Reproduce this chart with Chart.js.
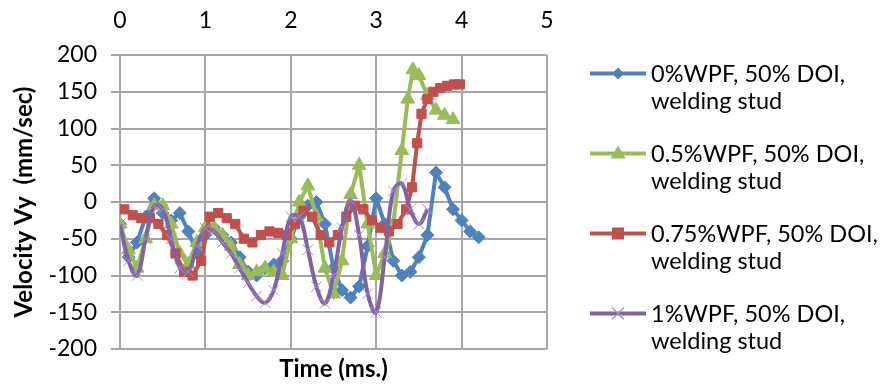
<!DOCTYPE html>
<html>
<head>
<meta charset="utf-8">
<script src="https://cdn.jsdelivr.net/npm/chart.js@4/dist/chart.umd.min.js"></script>
<style>
html,body{margin:0;padding:0;background:#fff;}
#wrap{position:relative;width:884px;height:388px;overflow:hidden;}
#c{position:absolute;left:0;top:0;}
.ltxt{position:absolute;left:651px;font-family:Lato, sans-serif;font-size:23.5px;line-height:27px;color:#000;white-space:nowrap;}
.lsym{position:absolute;left:586px;width:64px;height:27px;}
</style>
</head>
<body>
<div id="wrap">
<canvas id="c" width="884" height="388"></canvas>
<div id="legend"></div>
</div>
<script>
// ---- Data (time in ms, velocity in mm/sec) ----
const seriesNames = ['0%WPF, 50% DOI,', '0.5%WPF, 50% DOI,', '0.75%WPF, 50% DOI,', '1%WPF, 50% DOI,'];
const seriesSub = 'welding stud';
const xTicks = [0, 1, 2, 3, 4, 5];
const yTicks = [-200, -150, -100, -50, 0, 50, 100, 150, 200];

const tBlue = [0,0.1,0.2,0.3,0.4,0.5,0.6,0.7,0.8,0.9,1.0,1.1,1.2,1.3,1.4,1.5,1.6,1.7,1.8,1.9,2.0,2.1,2.2,2.3,2.4,2.5,2.6,2.7,2.8,2.9,3.0,3.1,3.2,3.3,3.4,3.5,3.6,3.7,3.8,3.9,4.0,4.1,4.2];
const vBlue = [-30,-75,-55,-20,5,-15,-25,-15,-40,-70,-45,-35,-45,-55,-75,-95,-100,-90,-85,-80,-50,-20,-5,0,-30,-90,-120,-130,-115,-60,5,-30,-80,-100,-95,-75,-45,40,20,-10,-25,-40,-48];

const tGreen = [0,0.1,0.2,0.3,0.4,0.5,0.6,0.7,0.8,0.9,1.0,1.1,1.2,1.3,1.4,1.5,1.6,1.7,1.8,1.9,2.0,2.1,2.2,2.3,2.4,2.5,2.6,2.7,2.8,2.9,3.0,3.1,3.2,3.3,3.37,3.43,3.5,3.6,3.7,3.8,3.9];
const vGreen = [-30,-65,-90,-50,-5,-5,-30,-70,-85,-55,-35,-35,-45,-60,-85,-100,-95,-90,-95,-100,-50,0,22,-20,-90,-125,-80,10,50,-30,-100,-70,-30,70,140,180,172,145,125,118,112];

const tRed = [0.05,0.15,0.25,0.35,0.45,0.55,0.65,0.75,0.85,0.95,1.05,1.15,1.25,1.35,1.45,1.55,1.65,1.75,1.85,1.95,2.05,2.15,2.25,2.35,2.45,2.55,2.65,2.75,2.85,2.95,3.05,3.15,3.25,3.35,3.42,3.48,3.53,3.6,3.67,3.75,3.83,3.91,3.98];
const vRed = [-10,-18,-22,-22,-30,-45,-70,-95,-100,-80,-20,-15,-22,-30,-50,-55,-45,-40,-42,-45,-30,-12,-20,-45,-55,-45,-20,-5,-10,-25,-35,-40,-30,-10,20,80,120,140,150,155,158,160,160];

const tPurple = [0,0.1,0.2,0.3,0.4,0.5,0.6,0.7,0.8,0.9,1.0,1.1,1.2,1.3,1.4,1.5,1.6,1.7,1.8,1.9,2.0,2.1,2.2,2.3,2.4,2.5,2.6,2.7,2.8,2.9,3.0,3.1,3.2,3.3,3.4,3.5,3.6];
const vPurple = [-30,-80,-100,-50,-5,-10,-50,-90,-95,-60,-36,-40,-55,-70,-90,-110,-128,-137,-120,-70,-20,-20,-65,-115,-138,-100,-35,2,-45,-125,-150,-75,15,25,-10,-30,-10];

const colors = ['#4F81BD', '#9BBB59', '#C0504D', '#8064A2'];
const markerBorder = ['#4F81BD', '#9BBB59', '#C0504D', '#a68fc8'];
const styles = ['rectRot', 'triangle', 'rect', 'crossRot'];
const radii = [6.5, 8, 6.5, 7.5];

function zip(t, v) { return t.map((x, i) => ({x: x, y: v[i]})); }
const pts = [zip(tBlue, vBlue), zip(tGreen, vGreen), zip(tRed, vRed), zip(tPurple, vPurple)];

const datasets = pts.map((d, i) => ({
  label: seriesNames[i] + ' ' + seriesSub,
  data: d,
  showLine: true,
  borderColor: colors[i],
  backgroundColor: colors[i],
  borderWidth: 4,
  tension: i === 3 ? 0.4 : 0,
  pointStyle: styles[i],
  pointRadius: radii[i],
  pointBorderWidth: 1,
  pointBorderColor: markerBorder[i],
  pointBackgroundColor: colors[i],
  order: 4 - i
}));

const FONT = 'Lato';
const gridColor = '#a6a6a6';

new Chart(document.getElementById('c'), {
  type: 'scatter',
  data: { datasets: datasets },
  options: {
    responsive: false,
    animation: false,
    layout: { padding: { left: 0, right: 337, top: 0, bottom: 0 } },
    plugins: { legend: { display: false }, tooltip: { enabled: false } },
    scales: {
      x: {
        type: 'linear', position: 'top', min: 0, max: 5,
        afterBuildTicks: s => { s.ticks = xTicks.map(v => ({value: v})); },
        ticks: { color: '#000', font: { family: FONT, size: 23 }, padding: 21 },
        grid: { color: gridColor, lineWidth: 2, drawTicks: false },
        border: { display: false },
        afterFit: s => { s.height = 55; }
      },
      x2: {
        type: 'linear', position: 'bottom', min: 0, max: 5,
        ticks: { display: false },
        grid: { display: false, drawTicks: false },
        border: { display: false },
        title: { display: true, text: 'Time (ms.)', color: '#000', font: { family: FONT, size: 24, weight: 'bold' }, padding: { top: 0, bottom: 4 } },
        afterFit: s => { s.height = 39; }
      },
      y: {
        type: 'linear', position: 'left', min: -200, max: 200,
        afterBuildTicks: s => { s.ticks = yTicks.map(v => ({value: v})); },
        ticks: { color: '#000', font: { family: FONT, size: 23 }, padding: 14 },
        grid: { color: gridColor, lineWidth: 2, tickLength: 9 },
        border: { display: false },
        title: { display: true, text: 'Velocity Vy  (mm/sec)', color: '#000', font: { family: FONT, size: 24, weight: 'bold' }, padding: { top: 10, bottom: 0 } },
        afterFit: s => { s.width = 120; }
      }
    }
  }
});

// ---- HTML legend ----
const legendTops = [60, 140, 220, 300];
const leg = document.getElementById('legend');
seriesNames.forEach((name, i) => {
  const top = legendTops[i];
  const c = colors[i];
  let marker = '';
  const cx = 32, cy = 13.5;
  if (i === 0) marker = `<polygon points="${cx},${cy-6} ${cx+6},${cy} ${cx},${cy+6} ${cx-6},${cy}" fill="${c}"/>`;
  if (i === 1) marker = `<polygon points="${cx},${cy-8} ${cx+7.5},${cy+5} ${cx-7.5},${cy+5}" fill="${c}"/>`;
  if (i === 2) marker = `<rect x="${cx-6}" y="${cy-6}" width="12" height="12" fill="${c}"/>`;
  if (i === 3) marker = `<path d="M${cx-6},${cy-6}L${cx+6},${cy+6}M${cx+6},${cy-6}L${cx-6},${cy+6}" stroke="#a68fc8" stroke-width="1.2"/>`;
  leg.insertAdjacentHTML('beforeend',
    `<svg class="lsym" style="top:${top}px" viewBox="0 0 64 27"><line x1="4" y1="${cy}" x2="60" y2="${cy}" stroke="${c}" stroke-width="4"/>${marker}</svg>` +
    `<div class="ltxt" style="top:${top}px">${name}<br>${seriesSub}</div>`);
});
</script>
</body>
</html>
